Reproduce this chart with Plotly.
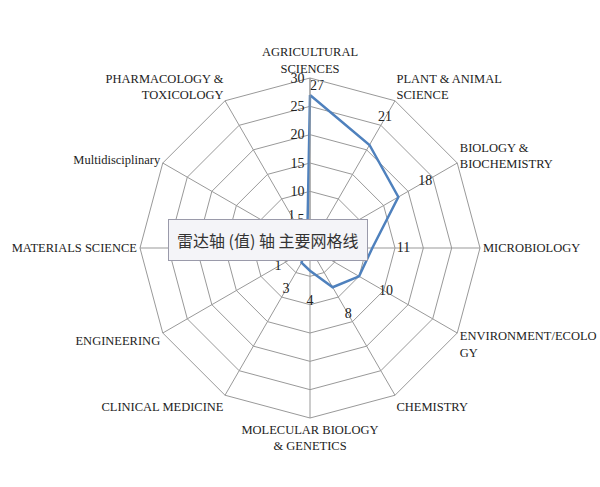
import numpy as np
import plotly.graph_objects as go

categories = [
    "AGRICULTURAL<br>SCIENCES",
    "PLANT & ANIMAL<br>SCIENCE",
    "BIOLOGY &<br>BIOCHEMISTRY",
    "MICROBIOLOGY",
    "ENVIRONMENT/ECOLO<br>GY",
    "CHEMISTRY",
    "MOLECULAR BIOLOGY<br>& GENETICS",
    "CLINICAL MEDICINE",
    "ENGINEERING",
    "MATERIALS SCIENCE",
    "Multidisciplinary",
    "PHARMACOLOGY &<br>TOXICOLOGY",
]
values = [27, 21, 18, 11, 10, 8, 4, 3, 1, 1, 1, 1]
radial_ticks = [0, 5, 10, 15, 20, 25, 30]

v = np.array(values, dtype=float)
label_r = np.minimum(v + 5.5, 28.5)
label_pos = ["middle right" if x > 25 else "middle center" for x in values]

fig = go.Figure()
fig.add_trace(go.Scatterpolar(
    r=values + values[:1],
    theta=categories + categories[:1],
    mode="lines",
    line=dict(color="#4f81bd", width=2.5),
    hoverinfo="skip",
))
fig.add_trace(go.Scatterpolar(
    r=label_r,
    theta=categories,
    mode="text",
    text=[str(x) for x in values],
    textposition=label_pos,
    textfont=dict(family="Liberation Serif", size=14, color="#222222"),
    cliponaxis=False,
    hoverinfo="skip",
))

R = 170
cx, cy = 310, 248
W, H = 600, 487
fig.update_layout(
    width=W, height=H,
    margin=dict(l=0, r=0, t=0, b=0),
    paper_bgcolor="white",
    showlegend=False,
    polar=dict(
        domain=dict(x=[(cx - R) / W, (cx + R) / W],
                    y=[(H - cy - R) / H, (H - cy + R) / H]),
        bgcolor="white",
        gridshape="linear",
        angularaxis=dict(
            rotation=90, direction="clockwise",
            showline=True, linecolor="#999999", linewidth=1,
            gridcolor="#999999", gridwidth=1,
            ticks="",
            tickfont=dict(family="Liberation Serif", size=12.5, color="#222222"),
        ),
        radialaxis=dict(
            range=[0, 30], tickvals=radial_ticks,
            angle=90, tickangle=90,
            showline=True, linecolor="#999999", linewidth=1,
            gridcolor="#999999", gridwidth=1,
            ticks="", side="counterclockwise",
            tickfont=dict(family="Liberation Serif", size=14, color="#222222"),
        ),
    ),
)

fig.add_annotation(
    x=268 / W, y=1 - 240 / H, xref="paper", yref="paper",
    text="雷达轴 (值) 轴 主要网格线",
    showarrow=False,
    font=dict(family="Noto Sans CJK SC", size=16, color="#333333"),
    bgcolor="#f4f4f8", bordercolor="#9a9aaa", borderwidth=1, borderpad=8,
)

fig.write_html(
    "out.html",
    config={"displayModeBar": False},
    post_script="document.body.style.margin='0';document.body.style.overflow='hidden';",
)
